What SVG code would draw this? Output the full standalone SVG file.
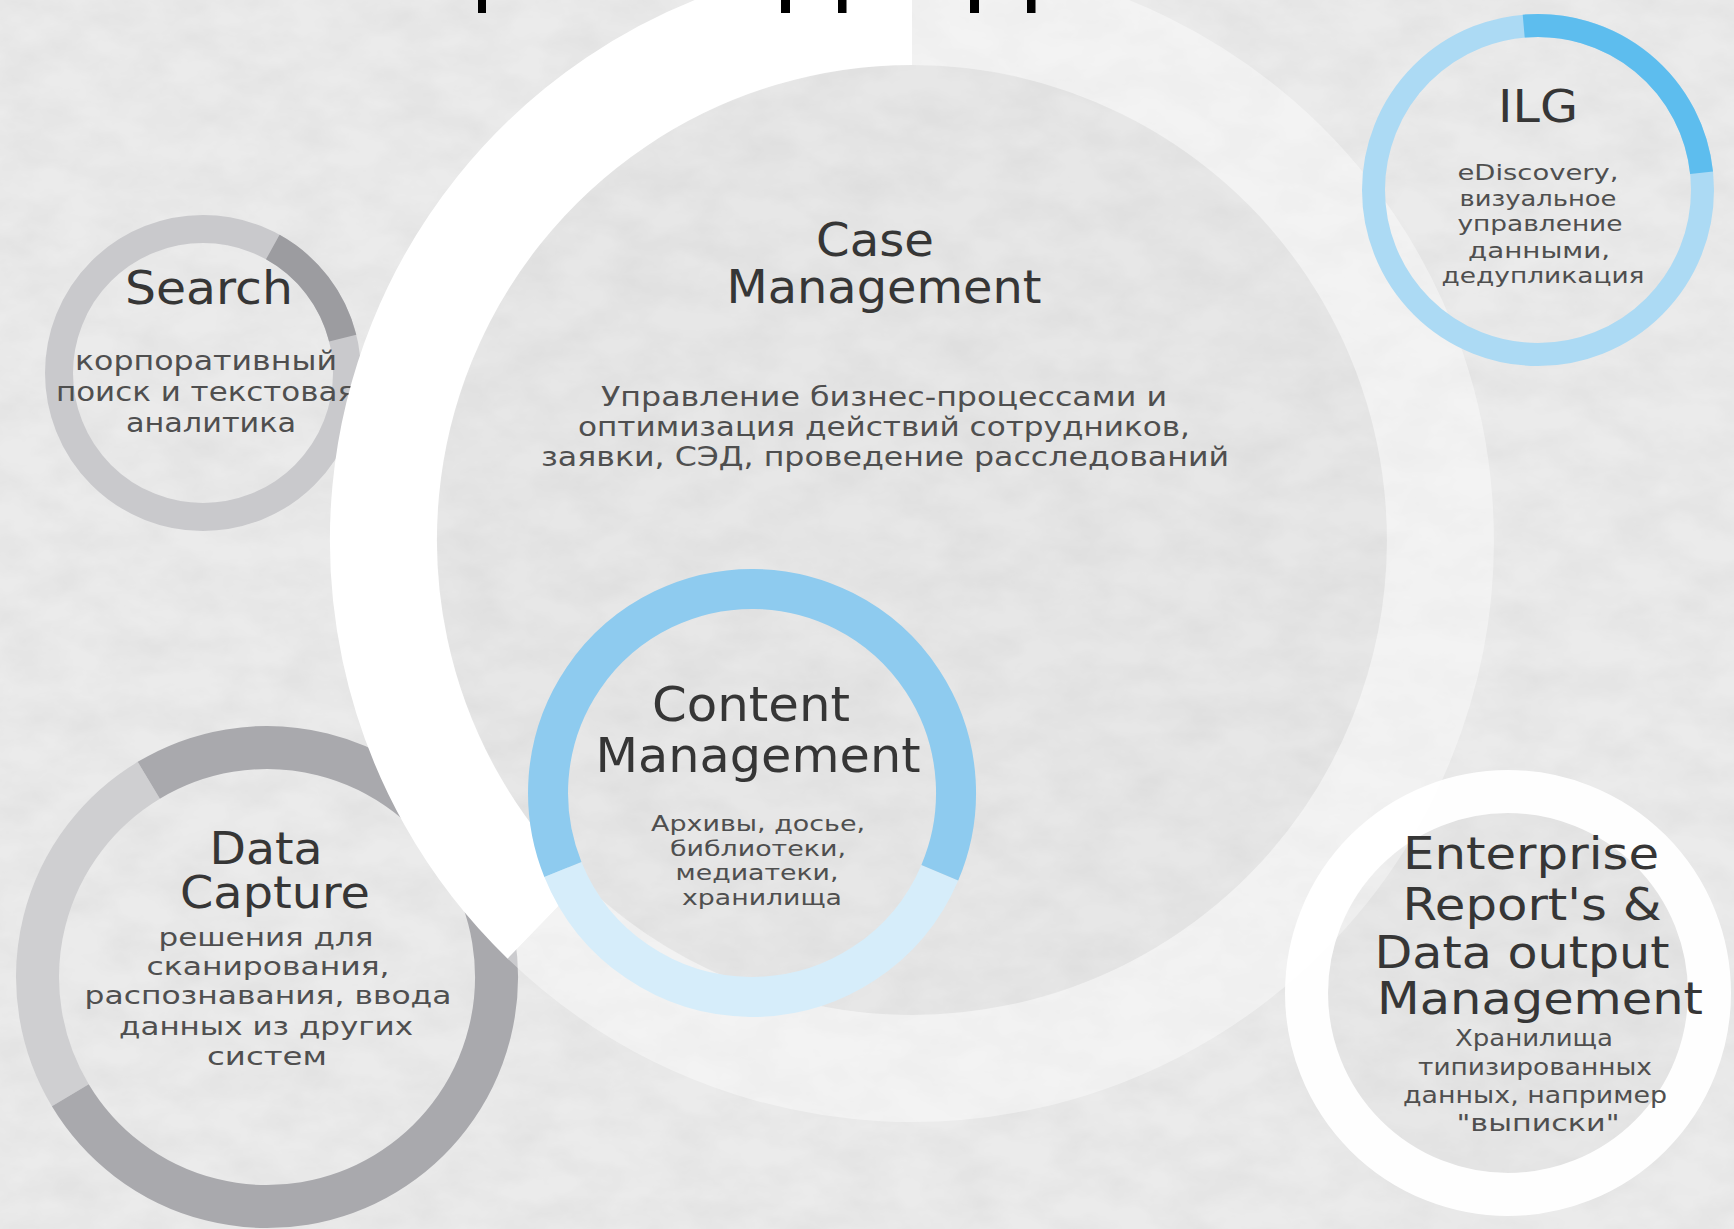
<svg xmlns="http://www.w3.org/2000/svg" width="1734" height="1229" viewBox="0 0 1734 1229">
<style>
.t{font-family:"DejaVu Sans","Noto Sans",sans-serif;text-anchor:middle}
.title{fill:#363636}
.desc{fill:#4f4f4f}
.ring{fill:none;stroke-linecap:butt}
</style>
<defs>
<filter id="paper" x="0" y="0" width="1" height="1">
<feTurbulence type="fractalNoise" baseFrequency="0.018 0.03" numOctaves="4" seed="7" result="n"/>
<feColorMatrix in="n" type="matrix" values="0 0 0 0 0.45  0 0 0 0 0.45  0 0 0 0 0.45  0.26 0 0 0 -0.08"/>
</filter>
</defs>
<rect x="0" y="0" width="1734" height="1229" fill="#ebebeb"/>
<rect x="0" y="0" width="1734" height="1229" filter="url(#paper)"/>

<g id="connectors"/>

<g id="node-search">
<circle class="ring" cx="203" cy="373" r="144" stroke="#c9c9cc" stroke-width="28"/>
<path class="ring" d="M 272.8 247.1 A 144 144 0 0 1 342.7 338.2" stroke="#9c9ca0" stroke-width="28"/>
<text class="t title" x="209" y="304" font-size="47" textLength="168" lengthAdjust="spacingAndGlyphs">Search</text>
<text class="t desc" x="206" y="370" font-size="26" textLength="262" lengthAdjust="spacingAndGlyphs">корпоративный</text>
<text class="t desc" x="206" y="401" font-size="26" textLength="300" lengthAdjust="spacingAndGlyphs">поиск и текстовая</text>
<text class="t desc" x="211" y="432" font-size="26" textLength="170" lengthAdjust="spacingAndGlyphs">аналитика</text>
</g>

<g id="node-datacapture">
<path class="ring" d="M 70.3 1095.2 A 229.5 229.5 0 0 1 148.8 780.3" stroke="#cfcfd1" stroke-width="43"/>
<path class="ring" d="M 148.8 780.3 A 229.5 229.5 0 1 1 70.3 1095.2" stroke="#a9a9ad" stroke-width="43"/>
<text class="t title" x="266" y="864" font-size="45" textLength="113" lengthAdjust="spacingAndGlyphs">Data</text>
<text class="t title" x="275" y="908" font-size="45" textLength="190" lengthAdjust="spacingAndGlyphs">Capture</text>
<text class="t desc" x="266" y="946" font-size="25" textLength="215" lengthAdjust="spacingAndGlyphs">решения для</text>
<text class="t desc" x="268" y="975" font-size="25" textLength="243" lengthAdjust="spacingAndGlyphs">сканирования,</text>
<text class="t desc" x="268" y="1004" font-size="25" textLength="367" lengthAdjust="spacingAndGlyphs">распознавания, ввода</text>
<text class="t desc" x="266" y="1035" font-size="25" textLength="294" lengthAdjust="spacingAndGlyphs">данных из других</text>
<text class="t desc" x="267" y="1065" font-size="25" textLength="120" lengthAdjust="spacingAndGlyphs">систем</text>
</g>

<g id="node-case">
<circle cx="912" cy="540" r="475" fill="#000" fill-opacity="0.015"/>
<path class="ring" d="M 912 11.5 A 528.5 528.5 0 1 1 544.8 920.2" stroke="#ffffff" stroke-opacity="0.4" stroke-width="107"/>
<path class="ring" d="M 544.8 920.2 A 528.5 528.5 0 0 1 912 11.5" stroke="#ffffff" stroke-width="107"/>
<text class="t title" x="875" y="256" font-size="46" textLength="118" lengthAdjust="spacingAndGlyphs">Case</text>
<text class="t title" x="884" y="303" font-size="46" textLength="315" lengthAdjust="spacingAndGlyphs">Management</text>
<text class="t desc" x="884" y="406" font-size="26" textLength="566" lengthAdjust="spacingAndGlyphs">Управление бизнес-процессами и</text>
<text class="t desc" x="884" y="436" font-size="26" textLength="612" lengthAdjust="spacingAndGlyphs">оптимизация действий сотрудников,</text>
<text class="t desc" x="885" y="466" font-size="26" textLength="688" lengthAdjust="spacingAndGlyphs">заявки, СЭД, проведение расследований</text>
</g>

<g id="node-content">
<path class="ring" d="M 939.8 872.7 A 204 204 0 0 1 562.9 869.4" stroke="#d6edfa" stroke-width="40"/>
<path class="ring" d="M 562.9 869.4 A 204 204 0 1 1 939.8 872.7" stroke="#8ecbef" stroke-width="40"/>
<text class="t title" x="751" y="721" font-size="48" textLength="198" lengthAdjust="spacingAndGlyphs">Content</text>
<text class="t title" x="758" y="772" font-size="48" textLength="325" lengthAdjust="spacingAndGlyphs">Management</text>
<text class="t desc" x="758" y="831" font-size="22" textLength="214" lengthAdjust="spacingAndGlyphs">Архивы, досье,</text>
<text class="t desc" x="758" y="856" font-size="22" textLength="176" lengthAdjust="spacingAndGlyphs">библиотеки,</text>
<text class="t desc" x="757" y="880" font-size="22" textLength="163" lengthAdjust="spacingAndGlyphs">медиатеки,</text>
<text class="t desc" x="762" y="905" font-size="22" textLength="160" lengthAdjust="spacingAndGlyphs">хранилища</text>
</g>

<g id="node-ilg">
<circle class="ring" cx="1538" cy="190" r="164.5" stroke="#acdaf4" stroke-width="23"/>
<path class="ring" d="M 1523.7 26.1 A 164.5 164.5 0 0 1 1701.6 172.8" stroke="#5dbdee" stroke-width="23"/>
<text class="t title" x="1538" y="122" font-size="44" textLength="80" lengthAdjust="spacingAndGlyphs">ILG</text>
<text class="t desc" x="1538" y="180" font-size="22" textLength="161" lengthAdjust="spacingAndGlyphs">eDiscovery,</text>
<text class="t desc" x="1538" y="206" font-size="22" textLength="157" lengthAdjust="spacingAndGlyphs">визуальное</text>
<text class="t desc" x="1540" y="231" font-size="22" textLength="165" lengthAdjust="spacingAndGlyphs">управление</text>
<text class="t desc" x="1539" y="258" font-size="22" textLength="142" lengthAdjust="spacingAndGlyphs">данными,</text>
<text class="t desc" x="1543" y="283" font-size="22" textLength="203" lengthAdjust="spacingAndGlyphs">дедупликация</text>
</g>

<g id="node-enterprise">
<circle cx="1508" cy="993" r="180" fill="#000" fill-opacity="0.015"/>
<circle class="ring" cx="1508" cy="993" r="201.5" stroke="#ffffff" stroke-opacity="0.95" stroke-width="43"/>
<text class="t title" x="1531" y="869" font-size="45" textLength="256" lengthAdjust="spacingAndGlyphs">Enterprise</text>
<text class="t title" x="1532" y="920" font-size="45" textLength="259" lengthAdjust="spacingAndGlyphs">Report's &amp;</text>
<text class="t title" x="1522" y="968" font-size="45" textLength="295" lengthAdjust="spacingAndGlyphs">Data output</text>
<text class="t title" x="1540" y="1014" font-size="45" textLength="326" lengthAdjust="spacingAndGlyphs">Management</text>
<text class="t desc" x="1534" y="1046" font-size="23" textLength="158" lengthAdjust="spacingAndGlyphs">Хранилища</text>
<text class="t desc" x="1535" y="1075" font-size="23" textLength="234" lengthAdjust="spacingAndGlyphs">типизированных</text>
<text class="t desc" x="1535" y="1103" font-size="23" textLength="264" lengthAdjust="spacingAndGlyphs">данных, например</text>
<text class="t desc" x="1538" y="1131" font-size="23" textLength="163" lengthAdjust="spacingAndGlyphs">"выписки"</text>
</g>

<g id="top-fragments" fill="#000">
<rect x="478" y="0" width="8" height="13"/>
<rect x="781" y="0" width="9" height="13"/>
<rect x="838" y="0" width="8.5" height="13"/>
<rect x="970" y="0" width="9" height="13"/>
<rect x="1027" y="0" width="8.5" height="13"/>
</g>
</svg>
